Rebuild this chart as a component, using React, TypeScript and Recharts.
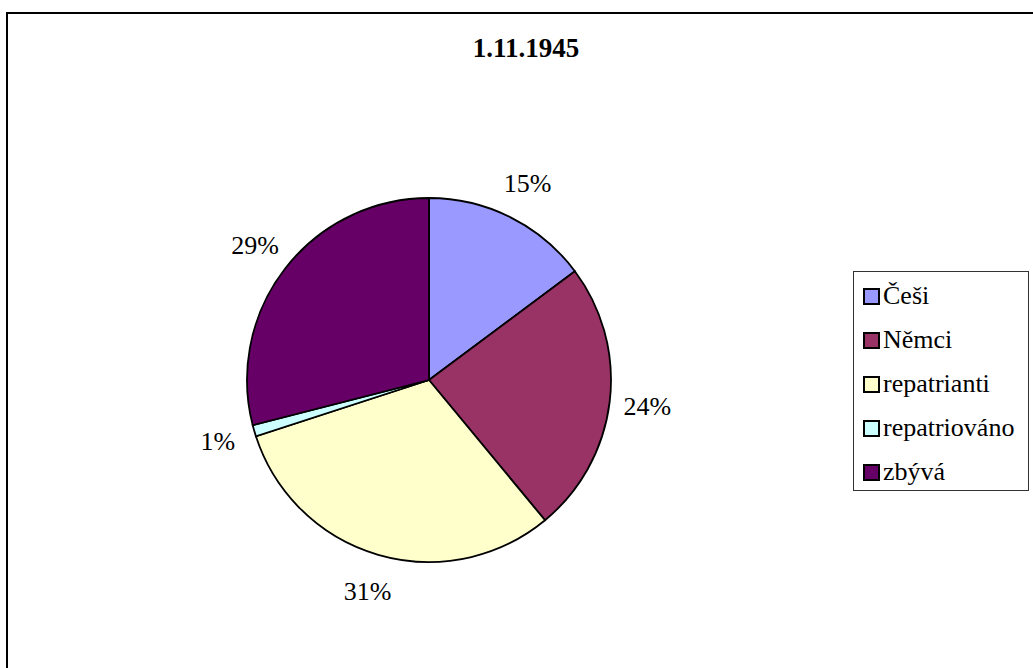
import { PieChart, Pie, Cell, Legend } from 'recharts'

const categories = ['Češi', 'Němci', 'repatrianti', 'repatriováno', 'zbývá']
const shares = [14.8, 24.2, 31.0, 1.0, 29.0]
const percentLabels = ['15%', '24%', '31%', '1%', '29%']
const colors = ['#9999FF', '#993366', '#FFFFCC', '#CCFFFF', '#660066']

const chartData = categories.map((name, i) => ({
  name,
  value: shares[i],
}))

const FONT = 'Liberation Serif, Tinos, DejaVu Serif, Times New Roman, Times, serif'
const RADIAN = Math.PI / 180

const renderLabel = (props: any) => {
  const { cx, cy, midAngle, outerRadius, index } = props
  const r = outerRadius + 38
  const x = cx + r * Math.cos(-midAngle * RADIAN)
  const y = cy + r * Math.sin(-midAngle * RADIAN)
  return (
    <text
      x={x}
      y={y}
      textAnchor="middle"
      dominantBaseline="central"
      style={{ fontFamily: FONT, fontSize: 26 }}
      fill="#000"
    >
      {percentLabels[index]}
    </text>
  )
}

const LegendBox = () => (
  <div
    style={{
      border: '1px solid #333',
      background: '#fff',
      width: 176,
      height: 220,
      boxSizing: 'border-box',
      paddingTop: 2,
      paddingLeft: 9,
      fontFamily: FONT,
      fontSize: 26,
      textAlign: 'left',
      whiteSpace: 'nowrap',
    }}
  >
    {categories.map((name, i) => (
      <div key={name} style={{ display: 'flex', alignItems: 'center', height: 44 }}>
        <span
          style={{
            display: 'inline-block',
            width: 13,
            height: 13,
            background: colors[i],
            border: '2px solid #000',
            marginRight: 3,
            flexShrink: 0,
          }}
        />
        <span>{name}</span>
      </div>
    ))}
  </div>
)

export default function App() {
  return (
    <div
      style={{
        position: 'absolute',
        left: 0,
        top: 0,
        width: 1033,
        height: 668,
        overflow: 'hidden',
        background: '#fff',
        fontFamily: FONT,
      }}
    >
      <div
        style={{
          position: 'absolute',
          left: 6,
          top: 12,
          width: 1100,
          height: 700,
          border: '2px solid #000',
        }}
      />
      <div
        style={{
          position: 'absolute',
          left: 0,
          top: 33,
          width: 1052,
          textAlign: 'center',
          fontFamily: FONT,
          fontWeight: 'bold',
          fontSize: 27,
          lineHeight: '31px',
        }}
      >
        1.11.1945
      </div>
      <div style={{ position: 'absolute', left: 0, top: 0 }}>
        <PieChart width={1033} height={668} margin={{ top: 0, right: 0, bottom: 0, left: 0 }}>
          <Pie
            data={chartData}
            dataKey="value"
            nameKey="name"
            cx={429}
            cy={380}
            outerRadius={182}
            startAngle={90}
            endAngle={-270}
            stroke="#000"
            strokeWidth={1.8}
            label={renderLabel}
            labelLine={false}
            isAnimationActive={false}
          >
            {chartData.map((_, i) => (
              <Cell key={`cell-${i}`} fill={colors[i]} />
            ))}
          </Pie>
          <Legend
            content={<LegendBox />}
            layout="vertical"
            align="right"
            verticalAlign="top"
            wrapperStyle={{ position: 'absolute', left: 853, top: 271, width: 176 }}
          />
        </PieChart>
      </div>
    </div>
  )
}
